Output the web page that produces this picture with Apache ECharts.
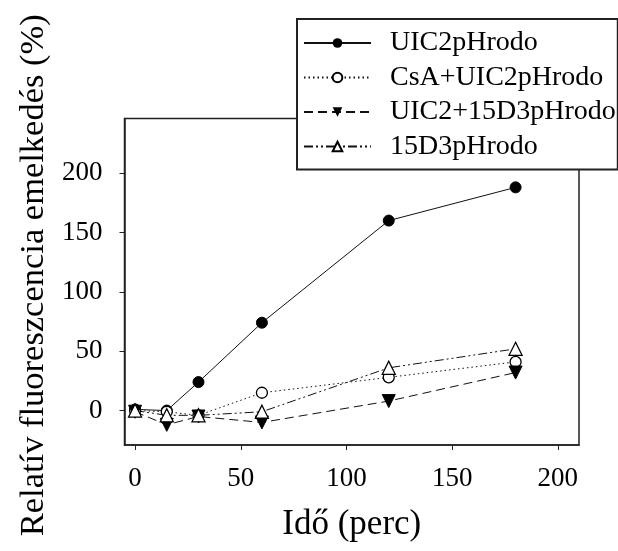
<!DOCTYPE html>
<html>
<head>
<meta charset="utf-8">
<script src="https://cdn.jsdelivr.net/npm/echarts@6/dist/echarts.min.js"></script>
<style>
html, body { margin: 0; padding: 0; background: #fff; }
#main { width: 618px; height: 551px; }
</style>
</head>
<body>
<div id="main"></div>
<script>
// idő (perc)
var times = [0, 15, 30, 60, 120, 180];
var seriesNames = ['UIC2pHrodo', 'CsA+UIC2pHrodo', 'UIC2+15D3pHrodo', '15D3pHrodo'];
var uic2 = [1, 0, 24, 74, 160, 188];
var csaUic2 = [0, -1, -4, 15, 28, 41];
var uic2d3 = [-1, -12, -5, -10, 8, 32];
var d3 = [0, -4, -4, -1, 36, 52];
var xTicks = [0, 50, 100, 150, 200];
var yTicks = [0, 50, 100, 150, 200];

var pairs = function (ys) {
	var out = [];
	for (var i = 0; i < times.length; i++) {
		out.push([times[i], ys[i]]);
	}
	return out;
};

var font = 'Liberation Serif, Times New Roman, serif';
var chart = echarts.init(document.getElementById('main'));

var option = {
	animation: false,
	backgroundColor: '#fff',
	grid: {
		left: 124.5,
		right: 39,
		top: 118.5,
		bottom: 106,
		show: true,
		borderColor: '#222',
		borderWidth: 1.5
	},
	legend: {
		data: seriesNames,
		orient: 'vertical',
		left: 297,
		top: 19,
		padding: [10, 2, 9, 6],
		itemWidth: 67,
		itemHeight: 12,
		itemGap: 6.5,
		backgroundColor: '#fff',
		borderColor: '#222',
		borderWidth: 2,
		z: 10,
		textStyle: {
			fontFamily: font,
			fontSize: 28,
			color: '#000',
			padding: [0, 0, 0, 14]
		}
	},
	xAxis: {
		type: 'value',
		min: -5,
		max: 210,
		name: 'Idő (perc)',
		nameLocation: 'middle',
		nameGap: 62,
		nameTextStyle: { fontFamily: font, fontSize: 35, color: '#000' },
		splitLine: { show: false },
		axisLine: { onZero: false, lineStyle: { color: '#222', width: 1.5 } },
		axisTick: { customValues: xTicks, length: 5, lineStyle: { color: '#222' } },
		axisLabel: { customValues: xTicks, margin: 20, fontFamily: font, fontSize: 27, color: '#000' }
	},
	yAxis: {
		type: 'value',
		min: -29,
		max: 246,
		name: 'Relatív fluoreszcencia emelkedés (%)',
		nameLocation: 'middle',
		nameGap: 70,
		nameTextStyle: { fontFamily: font, fontSize: 34.5, color: '#000', padding: [0, 0, 0, 13] },
		splitLine: { show: false },
		axisLine: { onZero: false, lineStyle: { color: '#222', width: 1.5 } },
		axisTick: { customValues: yTicks, length: 5, lineStyle: { color: '#222' } },
		axisLabel: { customValues: yTicks, margin: 22, fontFamily: font, fontSize: 27, color: '#000' }
	},
	series: [{
			name: seriesNames[0],
			type: 'line',
			data: pairs(uic2),
			symbol: 'circle',
			symbolSize: 11,
			itemStyle: { color: '#000', borderColor: '#000' },
			lineStyle: { color: '#111', width: 1, type: 'solid' }
		},
		{
			name: seriesNames[1],
			type: 'line',
			data: pairs(csaUic2),
			symbol: 'circle',
			symbolSize: 11,
			itemStyle: { color: '#fff', borderColor: '#000', borderWidth: 1.3 },
			lineStyle: { color: '#111', width: 1, type: [1.5, 3] }
		},
		{
			name: seriesNames[2],
			type: 'line',
			data: pairs(uic2d3),
			symbol: 'triangle',
			symbolRotate: 180,
			symbolSize: 13,
			itemStyle: { color: '#000', borderColor: '#000' },
			lineStyle: { color: '#111', width: 1, type: [9, 5] }
		},
		{
			name: seriesNames[3],
			type: 'line',
			data: pairs(d3),
			symbol: 'triangle',
			symbolSize: 13,
			itemStyle: { color: '#fff', borderColor: '#000', borderWidth: 1.3 },
			lineStyle: { color: '#111', width: 1, type: [9, 3, 2, 3, 2, 3] }
		}
	]
};

chart.setOption(option);
</script>
</body>
</html>
